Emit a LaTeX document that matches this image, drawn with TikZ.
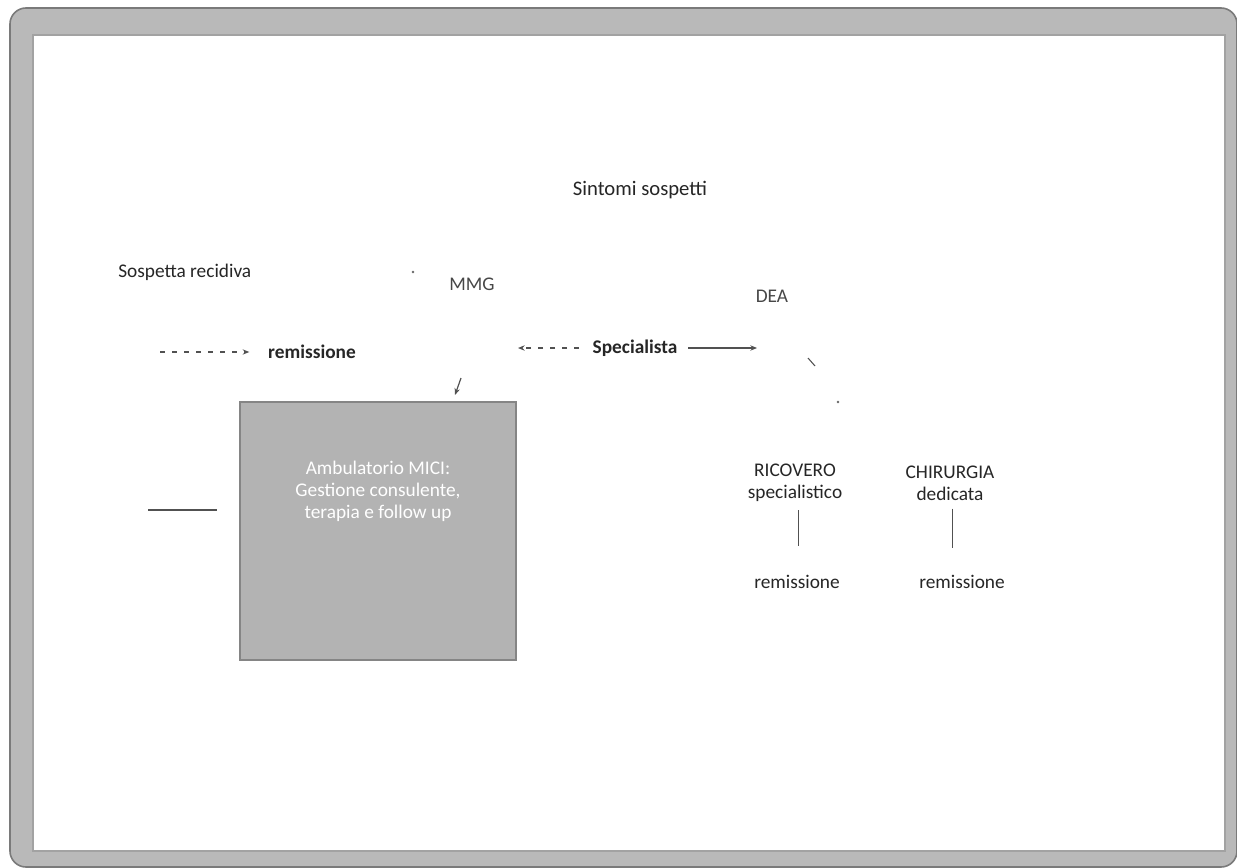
\documentclass[tikz,border=0pt]{standalone}
\usepackage{fontspec}
\setmainfont{Carlito}
\usetikzlibrary{arrows.meta}
\definecolor{frame}{HTML}{B9B9B9}
\definecolor{frameedge}{HTML}{7A7A7A}
\definecolor{boxfill}{HTML}{B3B3B3}
\definecolor{boxedge}{HTML}{858585}
\definecolor{ink}{HTML}{262626}
\tikzset{
  lbl/.style={font=\fontsize{14.5}{17}\selectfont, text=ink, inner sep=0pt},
  lblb/.style={lbl, font=\fontsize{14.5}{17}\selectfont\bfseries},
  lbl2/.style={lbl, align=center},
  conn/.style={draw=ink!80, line width=0.9pt},
  tip/.style={-{Stealth[length=5pt,width=4pt]}},
  dashconn/.style={conn, dash pattern=on 4pt off 5pt},
  speck/.style={fill=ink!70}
}
\begin{document}
\begin{tikzpicture}[x=0.75pt,y=-0.75pt]
\useasboundingbox (0,0) rectangle (1237,867);
% frame
\fill[white] (0,0) rectangle (1237,867);
\fill[frame, draw=frameedge, line width=1.2pt, rounded corners=12] (10,8) rectangle (1237,867);
\fill[white, draw=frameedge!70, line width=0.8pt] (33,35) rectangle (1225,851);

% nodes
\node[lbl, font=\fontsize{15.5}{18}\selectfont] (sint) at (640,190) {Sintomi sospetti};
\node[lbl, anchor=west] (sosp) at (118,272) {Sospetta recidiva};
\node[lbl, text=ink!85] (mmg) at (472,284) {MMG};
\node[lbl, text=ink!85] (dea) at (772,296) {DEA};
\node[lblb] (remA) at (312,352) {remissione};
\node[lblb] (spec) at (635,348) {Specialista};
\node[draw=boxedge, line width=2pt, fill=boxfill, minimum width=276*0.75pt, minimum height=258*0.75pt, inner sep=0pt] (amb) at (378,531) {};
\node[lbl2, text=white, font=\fontsize{14.5}{16.5}\selectfont] (ambt) at (378,491) {Ambulatorio MICI:\\Gestione consulente,\\terapia e follow up};
\node[lbl2, font=\fontsize{14.5}{16.5}\selectfont] (ric) at (795,483) {RICOVERO\\specialistico};
\node[lbl2, font=\fontsize{14.5}{16.5}\selectfont] (chi) at (950,483) {CHIRURGIA\\dedicata};
\node[lbl] (remB) at (797,582) {remissione};
\node[lbl] (remC) at (962,582) {remissione};

% coordinates for free ends
\coordinate (a0) at (160,352);
\coordinate (a1) at (518,348);
\coordinate (a2) at (757,348);
\coordinate (a3) at (461,378);
\coordinate (a4) at (455,395);
\coordinate (a5) at (148,510);

% connectors
\draw[dashconn, tip, shorten >=14pt] (a0) -- (remA.west);
\draw[dashconn, tip, shorten <=10pt] (spec.west) -- (a1);
\draw[conn, tip, shorten <=8pt] (spec.east) -- (a2);
\draw[conn, tip] (a3) -- (a4);
\draw[conn, line width=0.7pt, shorten <=6pt, shorten >=22pt] (ric.south -| 798,0) -- (remB.north -| 798,0);
\draw[conn, line width=0.7pt, shorten <=6pt, shorten >=20pt] (chi.south -| 952,0) -- (remC.north -| 952,0);
\draw[conn, line width=0.8pt, shorten >=16pt] (a5) -- (amb.west |- a5);

% specks
\fill[speck] (413,272) circle (1.3);
\fill[speck] (838,402) circle (1.3);
\draw[conn, line width=0.8pt] (808,358) -- (815,366);
\end{tikzpicture}
\end{document}
